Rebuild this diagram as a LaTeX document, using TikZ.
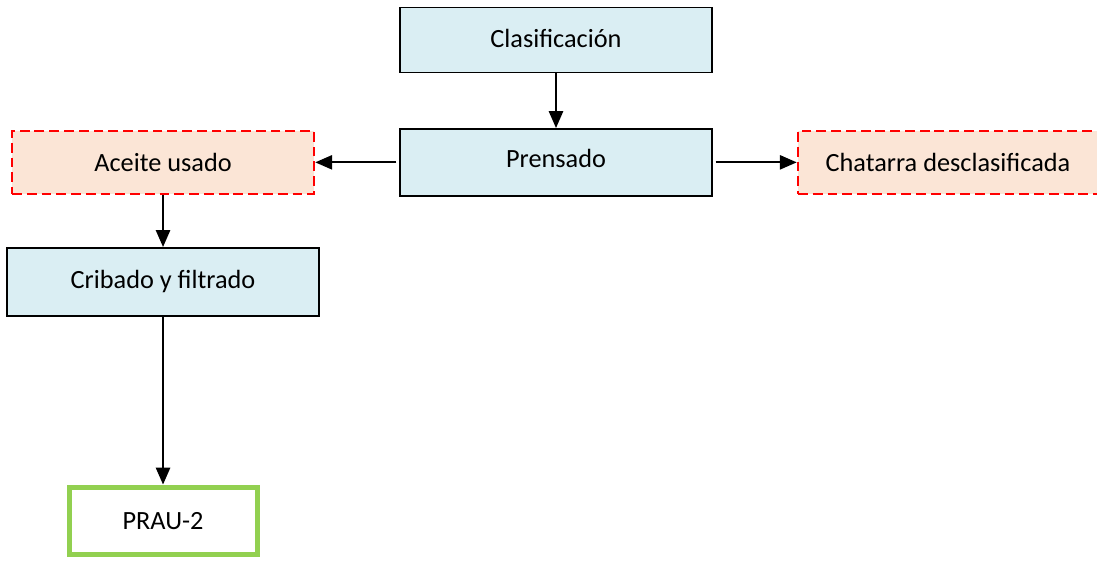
\documentclass[tikz,border=0pt]{standalone}
\usepackage{fontspec}
\setmainfont{Carlito}
\usepackage{xcolor}
\usepackage{tikz}
\usetikzlibrary{arrows.meta,positioning}

\definecolor{procfill}{HTML}{DAEEF3}
\definecolor{wastefill}{HTML}{FBE5D6}
\definecolor{prodgreen}{HTML}{92D050}

\begin{document}
\begin{tikzpicture}[->,>={Triangle[length=12pt,width=10pt]},line width=1.6pt,
			font=\fontsize{18.7}{22}\selectfont]
			\tikzstyle{proc}=[draw=black,line width=1.1pt,fill=procfill,text=black,
				minimum width=7.8cm,minimum height=1.625cm,inner sep=0pt]
			\tikzstyle{waste}=[draw=red,dashed,dash pattern=on 7pt off 3.5pt,line width=1.7pt,
				fill=wastefill,minimum width=7.55cm,minimum height=1.575cm,inner sep=0pt]
			\tikzstyle{prod}=[draw=prodgreen,line width=3.6pt,fill=white,
				minimum width=4.7cm,minimum height=1.675cm,inner sep=0pt]
			\useasboundingbox (0,0) rectangle (27.425,-14.05);
			\node[proc]    (clas) at (13.9,-1.0)                             {\raisebox{3pt}{Clasificación}};
			\node[proc, minimum height=1.675cm]    (pren)[below=1.37cm of clas]    {\raisebox{5pt}{Prensado}};
			\node[waste]   (aceite)[left=2.1cm of pren]                       {Aceite usado};
			\node[waste, minimum width=7.5cm]   (chat)[right=2.1cm of pren]  {Chatarra desclasificada};
			\node[proc, minimum height=1.7cm]    (crib)[below=1.3cm of aceite]  {\raisebox{2pt}{Cribado y filtrado}};
			\node[prod]    (prau)[below=4.2cm of crib]                        {PRAU-2};
			
			\path
			(clas) edge (pren)
			(pren) edge[shorten <=2pt] (aceite)
			(pren) edge[shorten <=2pt] (chat)
			(aceite) edge (crib)
			(crib) edge (prau);
			
\end{tikzpicture}
\end{document}
